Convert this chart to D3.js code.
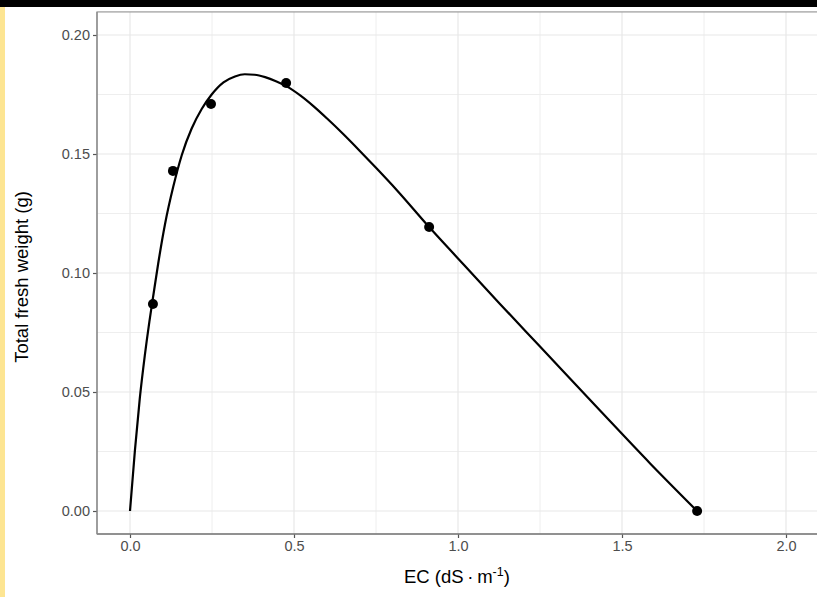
<!DOCTYPE html>
<html>
<head>
<meta charset="utf-8">
<script src="https://cdn.jsdelivr.net/npm/d3@7"></script>
<style>
    body { margin: 0; background: #fff; }
    #chart text { font-family: "Liberation Sans", Arial, sans-serif; }
</style>
</head>
<body>
<div id="chart"></div>
<script>
// tick values of both axes
var xTicks = [0, 0.5, 1, 1.5, 2];
var xMinor = [0.25, 0.75, 1.25, 1.75];
var yTicks = [0, 0.05, 0.1, 0.15, 0.2];
var yMinor = [0.025, 0.075, 0.125, 0.175];

// observed points
var ecObs = [0.070, 0.131, 0.247, 0.476, 0.912, 1.729];
var weightObs = [0.0870, 0.1429, 0.1710, 0.1798, 0.1193, 0.0000];

// fitted curve
var ecFit = [0, 0.015, 0.030, 0.045, 0.059, 0.072, 0.086, 0.107, 0.132, 0.158, 0.188,
    0.219, 0.249, 0.285, 0.320, 0.350, 0.380, 0.412, 0.445, 0.478, 0.520, 0.560, 0.600,
    0.650, 0.700, 0.750, 0.813, 0.912, 1.000, 1.128, 1.250, 1.433, 1.585, 1.729];
var weightFit = [0, 0.0255, 0.0475, 0.0652, 0.0795, 0.0914, 0.1040, 0.1207, 0.1363, 0.1496, 0.1607,
    0.1690, 0.1750, 0.1801, 0.1826, 0.1835, 0.1833, 0.1823, 0.1806, 0.1784, 0.1745, 0.1700, 0.1650,
    0.1584, 0.1514, 0.1442, 0.1349, 0.1193, 0.1061, 0.0870, 0.0691, 0.0422, 0.0201, 0.0000];

function init() {

    var width = 817;
    var height = 597;

    var svg = d3.select("#chart")
        .append("svg")
        .attr("width", width)
        .attr("height", height);

    var x = d3.scaleLinear().domain([0, 2]).range([130, 786]);
    var y = d3.scaleLinear().domain([0, 0.2]).range([511, 35]);

    // panel extent (ggplot style expansion)
    var px0 = x(-0.1006), px1 = x(2.1);
    var py0 = y(0.2097), py1 = y(-0.00966);

    svg.append("rect")
        .attr("x", px0).attr("y", py0)
        .attr("width", px1 - px0).attr("height", py1 - py0)
        .attr("fill", "#fff");

    var grid = svg.append("g");

    // minor grid
    grid.selectAll(".vminor").data(xMinor).enter().append("line")
        .attr("x1", d => x(d)).attr("x2", d => x(d))
        .attr("y1", py0).attr("y2", py1)
        .attr("stroke", "#eeeeee").attr("stroke-width", 1);
    grid.selectAll(".hminor").data(yMinor).enter().append("line")
        .attr("y1", d => y(d)).attr("y2", d => y(d))
        .attr("x1", px0).attr("x2", px1)
        .attr("stroke", "#eeeeee").attr("stroke-width", 1);

    // major grid
    grid.selectAll(".vmajor").data(xTicks).enter().append("line")
        .attr("x1", d => x(d)).attr("x2", d => x(d))
        .attr("y1", py0).attr("y2", py1)
        .attr("stroke", "#e8e8e8").attr("stroke-width", 1.2);
    grid.selectAll(".hmajor").data(yTicks).enter().append("line")
        .attr("y1", d => y(d)).attr("y2", d => y(d))
        .attr("x1", px0).attr("x2", px1)
        .attr("stroke", "#e8e8e8").attr("stroke-width", 1.2);

    // fitted curve
    var line = d3.line()
        .x((d, i) => x(ecFit[i]))
        .y((d, i) => y(weightFit[i]))
        .curve(d3.curveMonotoneX);

    svg.append("path")
        .datum(weightFit)
        .attr("d", line)
        .attr("fill", "none")
        .attr("stroke", "#000")
        .attr("stroke-width", 2.2);

    // points
    svg.selectAll(".pt").data(ecObs).enter().append("circle")
        .attr("cx", d => x(d))
        .attr("cy", (d, i) => y(weightObs[i]))
        .attr("r", 5)
        .attr("fill", "#000");

    // panel border
    svg.append("rect")
        .attr("x", px0).attr("y", py0)
        .attr("width", px1 - px0).attr("height", py1 - py0)
        .attr("fill", "none")
        .attr("stroke", "#9a9a9a")
        .attr("stroke-width", 1.2);

    // axes
    var xAxis = d3.axisBottom(x)
        .tickValues(xTicks)
        .tickFormat(d3.format(".1f"))
        .tickSize(4)
        .tickPadding(3);

    var yAxis = d3.axisLeft(y)
        .tickValues(yTicks)
        .tickFormat(d3.format(".2f"))
        .tickSize(4)
        .tickPadding(3);

    var gx = svg.append("g")
        .attr("transform", "translate(0," + py1 + ")")
        .call(xAxis);
    var gy = svg.append("g")
        .attr("transform", "translate(" + px0 + ",0)")
        .call(yAxis);

    [gx, gy].forEach(function (g) {
        g.select(".domain").remove();
        g.selectAll(".tick line").attr("stroke", "#555").attr("stroke-width", 1.2);
        g.selectAll(".tick text")
            .attr("fill", "#4d4d4d")
            .style("font-size", "14.5px");
    });

    // axis lines, a little darker than the border
    svg.append("line")
        .attr("x1", px0).attr("x2", px1)
        .attr("y1", py1).attr("y2", py1)
        .attr("stroke", "#808080").attr("stroke-width", 1.5);
    svg.append("line")
        .attr("x1", px0).attr("x2", px0)
        .attr("y1", py0).attr("y2", py1)
        .attr("stroke", "#8a8a8a").attr("stroke-width", 1.3);

    // axis titles
    var xt = svg.append("text")
        .attr("x", (x(-0.1006) + x(2.1)) / 2 - 1)
        .attr("y", 583)
        .attr("text-anchor", "middle")
        .attr("fill", "#000")
        .style("font-size", "18.5px");
    xt.append("tspan").text("EC (dS\u2009\u00b7\u2009m");
    xt.append("tspan").attr("dy", -7).style("font-size", "12.5px").text("-1");
    xt.append("tspan").attr("dy", 7).text(")");

    svg.append("text")
        .attr("transform", "translate(28," + ((py0 + py1) / 2 + 4) + ") rotate(-90)")
        .attr("text-anchor", "middle")
        .attr("fill", "#000")
        .style("font-size", "18.5px")
        .text("Total fresh weight (g)");

    // frame artifacts of the screenshot
    svg.append("rect")
        .attr("x", 0).attr("y", 0)
        .attr("width", width).attr("height", 7)
        .attr("fill", "#000");
    svg.append("rect")
        .attr("x", 0).attr("y", 7)
        .attr("width", 5).attr("height", height - 7)
        .attr("fill", "#fde592");
}

window.onload = init;
</script>
</body>
</html>
